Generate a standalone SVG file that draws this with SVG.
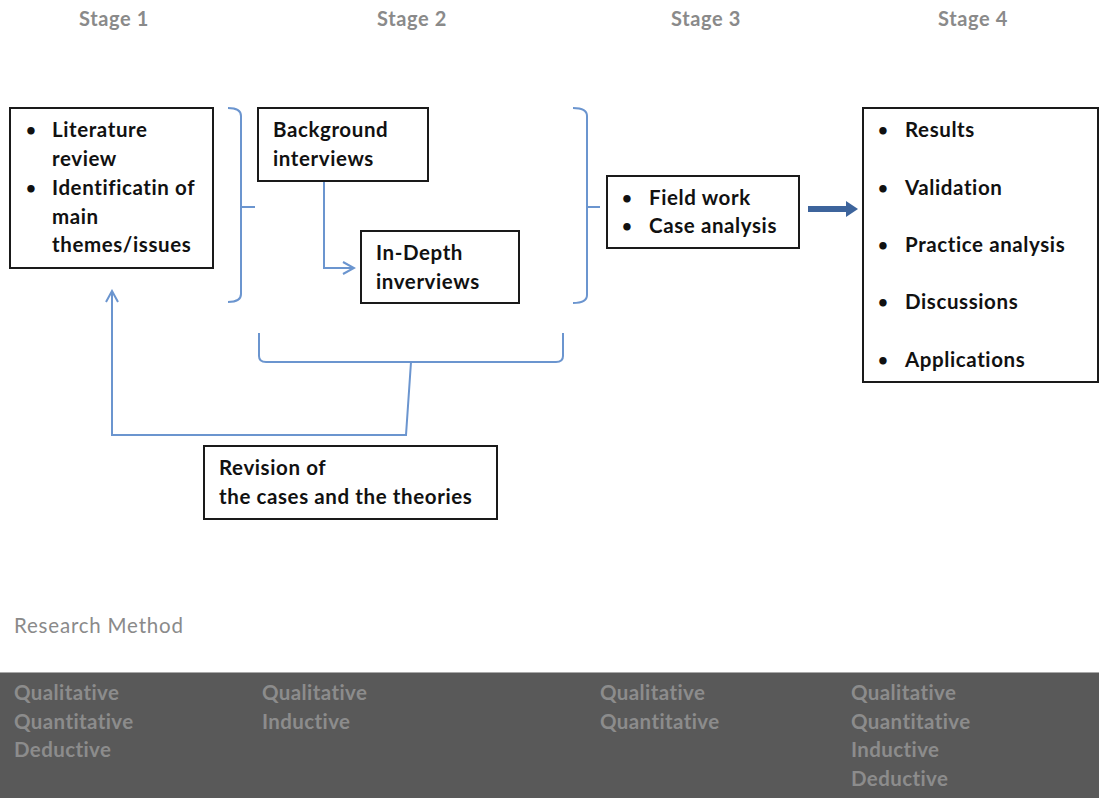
<svg xmlns="http://www.w3.org/2000/svg" width="1099" height="798" viewBox="0 0 1099 798">
<defs>
<style>
.stage{font-family:Lato,"Open Sans",sans-serif;font-weight:bold;font-size:20px;letter-spacing:0.6px;fill:#8a8a8a;text-anchor:middle}
.box{fill:#fff;stroke:#1a1a1a;stroke-width:2}
.t{font-family:Lato,"Open Sans",sans-serif;font-weight:bold;font-size:20.5px;letter-spacing:0.6px;fill:#111}
.b{font-family:Lato,"Open Sans",sans-serif;font-weight:bold;font-size:17px;fill:#111}
.blue{fill:none;stroke:#6b95cf;stroke-width:2}
.dark{font-family:Lato,"Open Sans",sans-serif;font-weight:bold;font-size:20.5px;letter-spacing:0.4px;fill:#8c8c8c}
</style>
<marker id="open" markerWidth="14" markerHeight="14" refX="12" refY="7" orient="auto" markerUnits="userSpaceOnUse">
<path d="M1,1 L12,7 L1,13" fill="none" stroke="#6b95cf" stroke-width="2"/>
</marker>
</defs>
<rect width="1099" height="798" fill="#fff"/>
<g id="stages">
<text class="stage" x="114" y="26">Stage 1</text>
<text class="stage" x="412" y="26">Stage 2</text>
<text class="stage" x="706" y="26">Stage 3</text>
<text class="stage" x="973" y="26">Stage 4</text>
</g>
<g id="connectors">
<path class="blue" d="M228,108 Q241,108 241,116 V294 Q241,302 228,302 M241,207 H255"/>
<path class="blue" d="M573,108 Q587,108 587,116 V295 Q587,303 573,303 M587,207 H600"/>
<path class="blue" d="M259,333 V356 Q259,362 266,362 H556 Q563,362 563,356 V333"/>
<path class="blue" d="M411,362 L406,435 H112 V291" marker-end="url(#open)"/>
<path class="blue" d="M324,181 V268 H354" marker-end="url(#open)"/>
<path d="M808,206 H846 V201 L858,209 L846,217 V212 H808 Z" fill="#3d649c"/>
</g>
<g id="lit">
<rect class="box" x="10" y="108" width="203" height="160"/>
<text class="b" x="26" y="136">•</text><text class="t" x="52" y="137">Literature</text>
<text class="t" x="52" y="166">review</text>
<text class="b" x="26" y="194">•</text><text class="t" x="52" y="195">Identificatin of</text>
<text class="t" x="52" y="224">main</text>
<text class="t" x="52" y="252">themes/issues</text>
</g>
<g id="background">
<rect class="box" x="258" y="108" width="170" height="73"/>
<text class="t" x="273" y="137">Background</text>
<text class="t" x="273" y="166">interviews</text>
</g>
<g id="indepth">
<rect class="box" x="361" y="231" width="158" height="72"/>
<text class="t" x="376" y="260">In-Depth</text>
<text class="t" x="376" y="289">inverviews</text>
</g>
<g id="field">
<rect class="box" x="607" y="176" width="192" height="72"/>
<text class="b" x="622" y="204">•</text><text class="t" x="649" y="205">Field work</text>
<text class="b" x="622" y="232">•</text><text class="t" x="649" y="233">Case analysis</text>
</g>
<g id="results">
<rect class="box" x="863" y="108" width="235" height="274"/>
<text class="b" x="878" y="136">•</text><text class="t" x="905" y="137">Results</text>
<text class="b" x="878" y="194">•</text><text class="t" x="905" y="195">Validation</text>
<text class="b" x="878" y="251">•</text><text class="t" x="905" y="252">Practice analysis</text>
<text class="b" x="878" y="308">•</text><text class="t" x="905" y="309">Discussions</text>
<text class="b" x="878" y="366">•</text><text class="t" x="905" y="367">Applications</text>
</g>
<g id="revision">
<rect class="box" x="204" y="446" width="293" height="73"/>
<text class="t" x="219" y="475">Revision of</text>
<text class="t" x="219" y="504">the cases and the theories</text>
</g>
<g id="method">
<text x="14" y="633" font-family="Lato,'Open Sans',sans-serif" font-size="20.5" letter-spacing="0.8" fill="#8a8a8a">Research Method</text>
<rect x="0" y="672" width="1099" height="126" fill="#595959"/>
<line x1="0" y1="672.5" x2="1099" y2="672.5" stroke="#a8a8a8" stroke-width="1"/>
<text class="dark" x="14" y="700">Qualitative</text>
<text class="dark" x="14" y="729">Quantitative</text>
<text class="dark" x="14" y="757">Deductive</text>
<text class="dark" x="262" y="700">Qualitative</text>
<text class="dark" x="262" y="729">Inductive</text>
<text class="dark" x="600" y="700">Qualitative</text>
<text class="dark" x="600" y="729">Quantitative</text>
<text class="dark" x="851" y="700">Qualitative</text>
<text class="dark" x="851" y="729">Quantitative</text>
<text class="dark" x="851" y="757">Inductive</text>
<text class="dark" x="851" y="786">Deductive</text>
</g>
</svg>
